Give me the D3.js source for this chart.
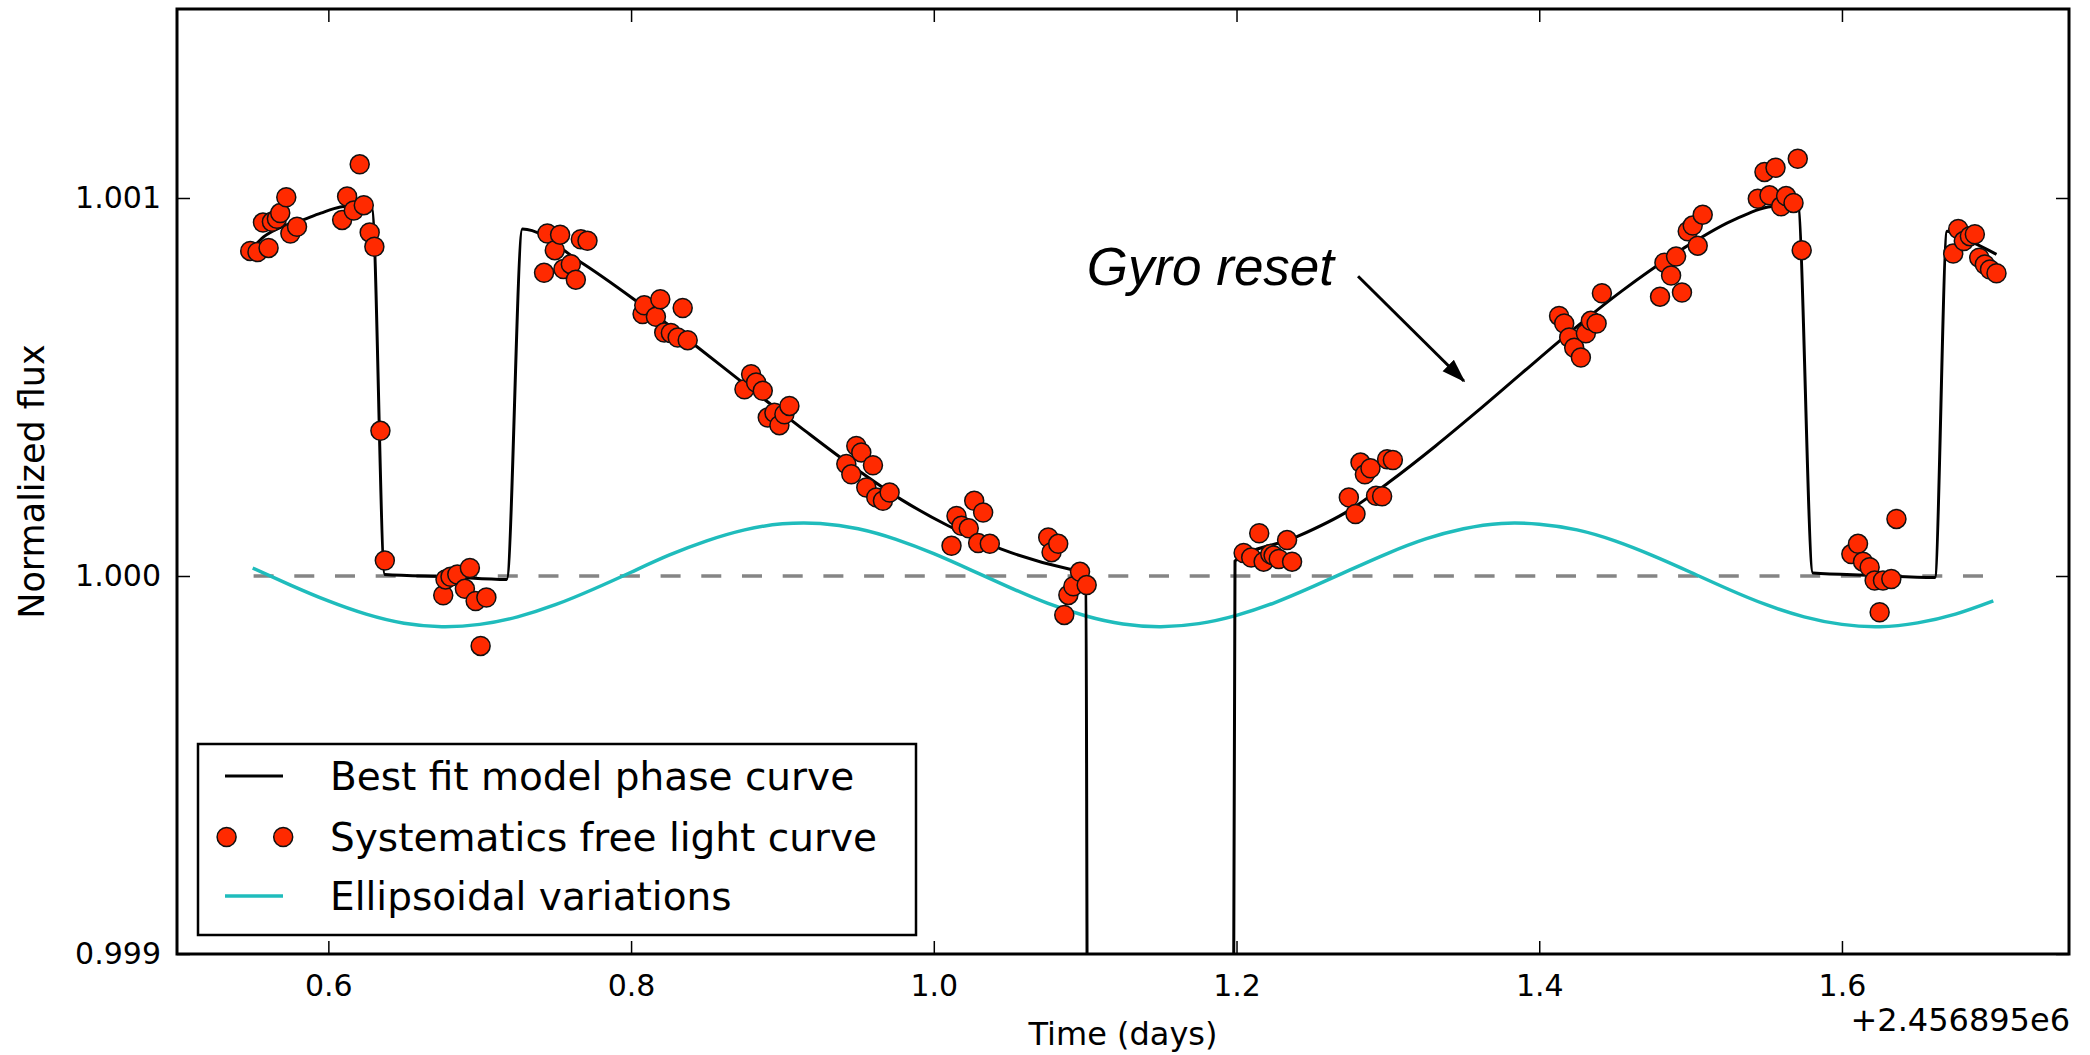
<!DOCTYPE html>
<html>
<head>
<meta charset="utf-8">
<script src="https://cdnjs.cloudflare.com/ajax/libs/d3/7.8.5/d3.min.js"></script>
<style>
  body { margin: 0; background: #fff; }
  svg text { font-family: "DejaVu Sans", sans-serif; fill: #000; }
</style>
</head>
<body>
<div id="chart"></div>
<script>
// flux values are stored as ppm above 1 (flux = 1 + ppm * 1e-6)

// red points, systematics free light curve
var obsTime = [
  0.5484, 0.5532, 0.5568, 0.5605, 0.5627, 0.5660, 0.5682, 0.5722, 0.5749, 0.5793,
  0.6091, 0.6124, 0.6168, 0.6207, 0.6234, 0.6273, 0.6304, 0.6344, 0.6373,
  0.6759, 0.6774, 0.6807, 0.6852, 0.6902, 0.6935, 0.6973, 0.7006, 0.7044,
  0.7425, 0.7447, 0.7496, 0.7531, 0.7553, 0.7602, 0.7635, 0.7668, 0.7712,
  0.8076, 0.8087, 0.8164, 0.8193, 0.8219, 0.8263, 0.8308, 0.8341, 0.8374,
  0.8749, 0.8793, 0.8826, 0.8870, 0.8903, 0.8947, 0.8980, 0.9013, 0.9046,
  0.9422, 0.9455, 0.9488, 0.9521, 0.9554, 0.9598, 0.9620, 0.9664, 0.9708,
  1.0117, 1.0150, 1.0183, 1.0231, 1.0267, 1.0293, 1.0326, 1.0370,
  1.0756, 1.0778, 1.0822, 1.0862, 1.0889, 1.0922, 1.0966, 1.1010,
  1.2047, 1.2097, 1.2150, 1.2179, 1.2223, 1.2245, 1.2279, 1.2334, 1.2367,
  1.2742, 1.2786, 1.2819, 1.2848, 1.2885, 1.2922, 1.2962, 1.2995, 1.3033,
  1.4131, 1.4165, 1.4198, 1.4231, 1.4275, 1.4308, 1.4341, 1.4379, 1.4414,
  1.4798, 1.4827, 1.4871, 1.4904, 1.4943, 1.4981, 1.5014, 1.5047, 1.5080,
  1.5444, 1.5488, 1.5521, 1.5561, 1.5598, 1.5631, 1.5680, 1.5708, 1.5734,
  1.6062, 1.6106, 1.6139, 1.6183, 1.6216, 1.6249, 1.6271, 1.6326, 1.6360,
  1.6735, 1.6768, 1.6805, 1.6845, 1.6878, 1.6907, 1.6944, 1.6978, 1.7021
];
var obsPpm = [
  860, 857, 935, 868, 937, 945, 960, 1002, 906, 924,
  942, 1004, 967, 1089, 981, 909, 871, 384, 41,
  -51, -9, -2, 4, -34, 21, -66, -185, -57,
  802, 906, 862, 903, 812, 825, 784, 891, 887,
  693, 716, 686, 732, 644, 643, 631, 709, 624,
  494, 534, 512, 490, 419, 432, 399, 428, 450,
  296, 269, 344, 327, 234, 293, 208, 199, 221,
  80, 159, 133, 126, 199, 87, 168, 85,
  102, 63, 85, -103, -50, -27, 11, -24,
  61, 49, 113, 38, 58, 54, 45, 95, 38,
  208, 164, 300, 269, 285, 212, 211, 309, 307,
  688, 668, 631, 604, 578, 642, 675, 668, 748,
  739, 829, 795, 845, 750, 912, 927, 874, 956,
  998, 1069, 1007, 1080, 978, 1005, 987, 1104, 862,
  58, 85, 38, 23, -12, -96, -12, -8, 151,
  853, 918, 886, 899, 904, 842, 824, 811, 801
];

// black line, best fit model phase curve (transit bottom is below the axis)
var modelTime = [
  0.5500, 0.5572, 0.5700, 0.5815, 0.5950, 0.6079, 0.6180, 0.6289, 0.6373, 0.6800, 0.7178,
  0.7282, 0.7668, 0.8043, 0.8440, 0.8727, 0.9124, 0.9388, 0.9786, 1.0095, 1.0447, 1.0900, 1.1005,
  1.1015, 1.1980,
  1.1990, 1.2389, 1.2742, 1.3007, 1.3315, 1.3580, 1.3889, 1.4218, 1.4549, 1.4946, 1.5300, 1.5564, 1.5708,
  1.5808, 1.6200, 1.6613,
  1.6695, 1.6850, 1.7021
];
var modelPpm = [
  868, 897, 925, 940, 960, 976, 980, 972, 4, -2, -9,
  918, 830, 725, 605, 515, 392, 312, 202, 133, 71, 18, 10,
  -1200, -1200,
  40, 102, 173, 248, 344, 432, 538, 650, 755, 865, 945, 978, 978,
  8, 2, -4,
  912, 885, 851
];

// cyan line, ellipsoidal variations
var ellTime = [
  0.550, 0.575, 0.600, 0.625, 0.650, 0.675, 0.700, 0.725, 0.750, 0.775,
  0.800, 0.825, 0.850, 0.875, 0.900, 0.925, 0.950, 0.975, 1.000, 1.025,
  1.050, 1.075, 1.100, 1.125, 1.150, 1.175, 1.200, 1.225, 1.250, 1.275,
  1.300, 1.325, 1.350, 1.375, 1.400, 1.425, 1.450, 1.475, 1.500, 1.525,
  1.550, 1.575, 1.600, 1.625, 1.650, 1.675, 1.700
];
var ellPpm = [
  21, -24, -66, -101, -125, -134, -128, -108, -76, -35,
  10, 55, 93, 122, 138, 139, 125, 97, 59, 15,
  -30, -72, -105, -127, -134, -126, -104, -71, -29, 16,
  60, 98, 125, 139, 137, 122, 93, 54, 10, -35,
  -76, -108, -128, -134, -124, -101, -66
];

// grey dashed reference at 1.000
var refTime = [0.5506, 1.6944];

var xTicks = [0.6, 0.8, 1.0, 1.2, 1.4, 1.6];
var yTicks = [0.999, 1.000, 1.001];

var legendLabels = ["Best fit model phase curve", "Systematics free light curve", "Ellipsoidal variations"];

var annText = "Gyro reset";
var annTextAt = [1.101, 771];   // time, ppm (text baseline)
var annTail = [1.2803, 793];
var annHead = [1.3502, 516];

var flux = function(p) { return 1 + p * 1e-6; };

var margin = { top: 9, right: 21, bottom: 101, left: 177 },
    width = 2090 - margin.left - margin.right,
    height = 1055 - margin.top - margin.bottom;

var x = d3.scaleLinear().domain([0.5, 1.75]).range([0, width]);
var y = d3.scaleLinear().domain([0.999, 1.0015]).range([height, 0]);

var svg = d3.select("#chart").append("svg")
    .attr("width", 2090)
    .attr("height", 1055)
    .append("g")
    .attr("transform", "translate(" + margin.left + "," + margin.top + ")");

svg.append("defs").append("clipPath")
    .attr("id", "plotclip")
  .append("rect")
    .attr("width", width)
    .attr("height", height);

svg.append("defs").append("marker")
    .attr("id", "arrowhead")
    .attr("markerUnits", "userSpaceOnUse")
    .attr("viewBox", "0 -10 24 20")
    .attr("refX", 22)
    .attr("refY", 0)
    .attr("markerWidth", 24)
    .attr("markerHeight", 20)
    .attr("orient", "auto")
  .append("path")
    .attr("d", "M0,-8L24,0L0,8Z")
    .attr("fill", "#000");

var plot = svg.append("g").attr("clip-path", "url(#plotclip)");

var line = d3.line()
    .x(function(d) { return x(d[0]); })
    .y(function(d) { return y(flux(d[1])); });

// dashed reference
plot.append("path")
    .datum(refTime.map(function(t) { return [t, 0]; }))
    .attr("fill", "none")
    .attr("stroke", "#858585")
    .attr("stroke-width", 3.5)
    .attr("stroke-dasharray", "20,20.7")
    .attr("d", line);

// ellipsoidal
plot.append("path")
    .datum(ellTime.map(function(t, i) { return [t, ellPpm[i]]; }))
    .attr("fill", "none")
    .attr("stroke", "#1fbcbc")
    .attr("stroke-width", 3.5)
    .attr("d", line.curve(d3.curveNatural));

// model
plot.append("path")
    .datum(modelTime.map(function(t, i) { return [t, modelPpm[i]]; }))
    .attr("fill", "none")
    .attr("stroke", "#000")
    .attr("stroke-width", 3)
    .attr("stroke-linejoin", "round")
    .attr("d", line.curve(d3.curveMonotoneX));

// points
plot.selectAll(".dot")
    .data(obsTime.map(function(t, i) { return [t, obsPpm[i]]; }))
    .enter().append("circle")
    .attr("class", "dot")
    .attr("cx", function(d) { return x(d[0]); })
    .attr("cy", function(d) { return y(flux(d[1])); })
    .attr("r", 9.5)
    .attr("fill", "#ff2a00")
    .attr("stroke", "#111")
    .attr("stroke-width", 1.5);

// axes, ticks inward on all four sides
var xAxis = d3.axisBottom(x).tickValues(xTicks).tickFormat(d3.format(".1f"))
    .tickSize(-13).tickPadding(21);
var yAxis = d3.axisLeft(y).tickValues(yTicks).tickFormat(d3.format(".3f"))
    .tickSize(-13).tickPadding(16);

var gx = svg.append("g")
    .attr("transform", "translate(0," + height + ")")
    .call(xAxis);
var gy = svg.append("g").call(yAxis);
var gt = svg.append("g").call(d3.axisTop(x).tickValues(xTicks).tickFormat("").tickSize(-13));
var gr = svg.append("g")
    .attr("transform", "translate(" + width + ",0)")
    .call(d3.axisRight(y).tickValues(yTicks).tickFormat("").tickSize(-13));

[gx, gy, gt, gr].forEach(function(g) {
  g.select(".domain").remove();
  g.selectAll(".tick line").attr("stroke", "#000").attr("stroke-width", 1.5);
  g.selectAll(".tick text").style("font-size", "30px").style("font-family", "DejaVu Sans").attr("fill", "#000");
});

svg.append("rect")
    .attr("width", width)
    .attr("height", height)
    .attr("fill", "none")
    .attr("stroke", "#000")
    .attr("stroke-width", 3);

// axis labels
svg.append("text")
    .attr("x", width / 2)
    .attr("y", 1045 - margin.top)
    .attr("text-anchor", "middle")
    .style("font-size", "32px")
    .text("Time (days)");

svg.append("text")
    .attr("x", width + 1)
    .attr("y", 1031 - margin.top)
    .attr("text-anchor", "end")
    .style("font-size", "32px")
    .text("+2.456895e6");

svg.append("text")
    .attr("transform", "translate(" + (44 - margin.left) + "," + (height / 2) + ") rotate(-90)")
    .attr("text-anchor", "middle")
    .style("font-size", "35px")
    .text("Normalized flux");

// annotation
svg.append("text")
    .attr("x", x(annTextAt[0]))
    .attr("y", y(flux(annTextAt[1])))
    .style("font-family", "Liberation Sans, Arial, sans-serif")
    .style("font-style", "italic")
    .style("font-size", "53px")
    .text(annText);

svg.append("line")
    .attr("x1", x(annTail[0]))
    .attr("y1", y(flux(annTail[1])))
    .attr("x2", x(annHead[0]))
    .attr("y2", y(flux(annHead[1])))
    .attr("stroke", "#000")
    .attr("stroke-width", 3)
    .attr("marker-end", "url(#arrowhead)");

// legend
var lg = svg.append("g")
    .attr("transform", "translate(" + (198 - margin.left) + "," + (744 - margin.top) + ")");

lg.append("rect")
    .attr("width", 718)
    .attr("height", 191)
    .attr("fill", "#fff")
    .attr("stroke", "#000")
    .attr("stroke-width", 2.5);

var rowY = [32, 93, 152];

lg.append("line")
    .attr("x1", 27).attr("x2", 85)
    .attr("y1", rowY[0]).attr("y2", rowY[0])
    .attr("stroke", "#000").attr("stroke-width", 3);

lg.selectAll(".lgdot")
    .data([28.6, 85.2])
    .enter().append("circle")
    .attr("class", "lgdot")
    .attr("cx", function(d) { return d; })
    .attr("cy", rowY[1])
    .attr("r", 9.5)
    .attr("fill", "#ff2a00")
    .attr("stroke", "#111")
    .attr("stroke-width", 1.5);

lg.append("line")
    .attr("x1", 27).attr("x2", 85)
    .attr("y1", rowY[2]).attr("y2", rowY[2])
    .attr("stroke", "#1fbcbc").attr("stroke-width", 3.5);

lg.selectAll(".lgtext")
    .data(legendLabels)
    .enter().append("text")
    .attr("class", "lgtext")
    .attr("x", 132)
    .attr("y", function(d, i) { return rowY[i]; })
    .attr("dy", "0.36em")
    .style("font-size", "39px")
    .text(function(d) { return d; });
</script>
</body>
</html>
